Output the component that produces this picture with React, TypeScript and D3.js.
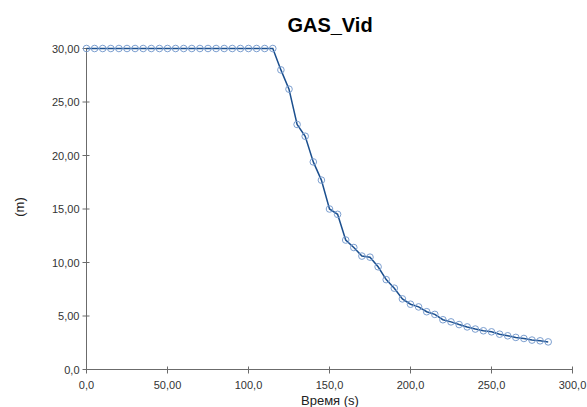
import React from "react";
import * as d3 from "d3";

// Time (s) and level (m)
const times: number[] = [
  0, 5, 10, 15, 20, 25, 30, 35, 40, 45, 50, 55, 60, 65, 70, 75, 80, 85, 90, 95,
  100, 105, 110, 115, 120, 125, 130, 135, 140, 145, 150, 155, 160, 165, 170,
  175, 180, 185, 190, 195, 200, 205, 210, 215, 220, 225, 230, 235, 240, 245,
  250, 255, 260, 265, 270, 275, 280, 285,
];
const levels: number[] = [
  30, 30, 30, 30, 30, 30, 30, 30, 30, 30, 30, 30, 30, 30, 30, 30, 30, 30, 30,
  30, 30, 30, 30, 30, 28.0, 26.2, 22.9, 21.8, 19.4, 17.7, 15.0, 14.5, 12.1,
  11.4, 10.6, 10.5, 9.6, 8.4, 7.6, 6.6, 6.1, 5.85, 5.4, 5.15, 4.65, 4.45, 4.2,
  3.98, 3.78, 3.62, 3.52, 3.3, 3.15, 3.0, 2.9, 2.75, 2.68, 2.58,
];

const xTicks: number[] = [0, 50, 100, 150, 200, 250, 300];
const xTickLabels: string[] = ["0,0", "50,00", "100,0", "150,0", "200,0", "250,0", "300,0"];
const yTicks: number[] = [0, 5, 10, 15, 20, 25, 30];
const yTickLabels: string[] = ["0,0", "5,00", "10,00", "15,00", "20,00", "25,00", "30,00"];

const title = "GAS_Vid";
const xTitle = "Время (s)";
const yTitle = "(m)";

export default function App() {
  const W = 587;
  const H = 407;
  const x = d3.scaleLinear().domain([0, 300]).range([86.5, 572.5]);
  const y = d3.scaleLinear().domain([0, 30]).range([369.5, 48.5]);
  const data = times.map((t, i) => ({ t, v: levels[i] }));
  const line = d3
    .line<{ t: number; v: number }>()
    .x((d) => x(d.t))
    .y((d) => y(d.v));

  const axisColor = "#6b6b6b";
  const font = "Arial, 'Liberation Sans', sans-serif";

  return (
    <svg
      width={W}
      height={H}
      style={{ position: "absolute", left: 0, top: 0, background: "#fff" }}
      fontFamily={font}
    >
      <text x={330} y={32} textAnchor="middle" fontSize={20} fontWeight="bold" fill="#000">
        {title}
      </text>

      {/* axes */}
      <line x1={x(0)} x2={x(0)} y1={y(30)} y2={y(0)} stroke={axisColor} strokeWidth={1} />
      <line x1={x(0)} x2={x(300)} y1={y(0)} y2={y(0)} stroke={axisColor} strokeWidth={1} />

      {yTicks.map((t, i) => (
        <g key={"y" + t}>
          <line x1={x(0) - 4} x2={x(0) + 3} y1={y(t)} y2={y(t)} stroke={axisColor} />
          <text x={x(0) - 7} y={y(t) + 4} textAnchor="end" fontSize={11} fill="#333">
            {yTickLabels[i]}
          </text>
        </g>
      ))}
      {xTicks.map((t, i) => (
        <g key={"x" + t}>
          <line x1={x(t)} x2={x(t)} y1={y(0) - 3} y2={y(0) + 4} stroke={axisColor} />
          <text x={x(t)} y={y(0) + 19} textAnchor="middle" fontSize={11} fill="#333">
            {xTickLabels[i]}
          </text>
        </g>
      ))}

      <text x={330} y={405} textAnchor="middle" fontSize={13} fill="#222">
        {xTitle}
      </text>
      <text
        transform={`translate(24,207) rotate(-90)`}
        textAnchor="middle"
        fontSize={13}
        fill="#222"
      >
        {yTitle}
      </text>

      <path d={line(data) || ""} fill="none" stroke="#1b4f8e" strokeWidth={1.5} />
      {data.map((d) => (
        <circle
          key={d.t}
          cx={x(d.t)}
          cy={y(d.v)}
          r={3.3}
          fill="none"
          stroke="#7c9fd0"
          strokeWidth={1}
        />
      ))}
    </svg>
  );
}
